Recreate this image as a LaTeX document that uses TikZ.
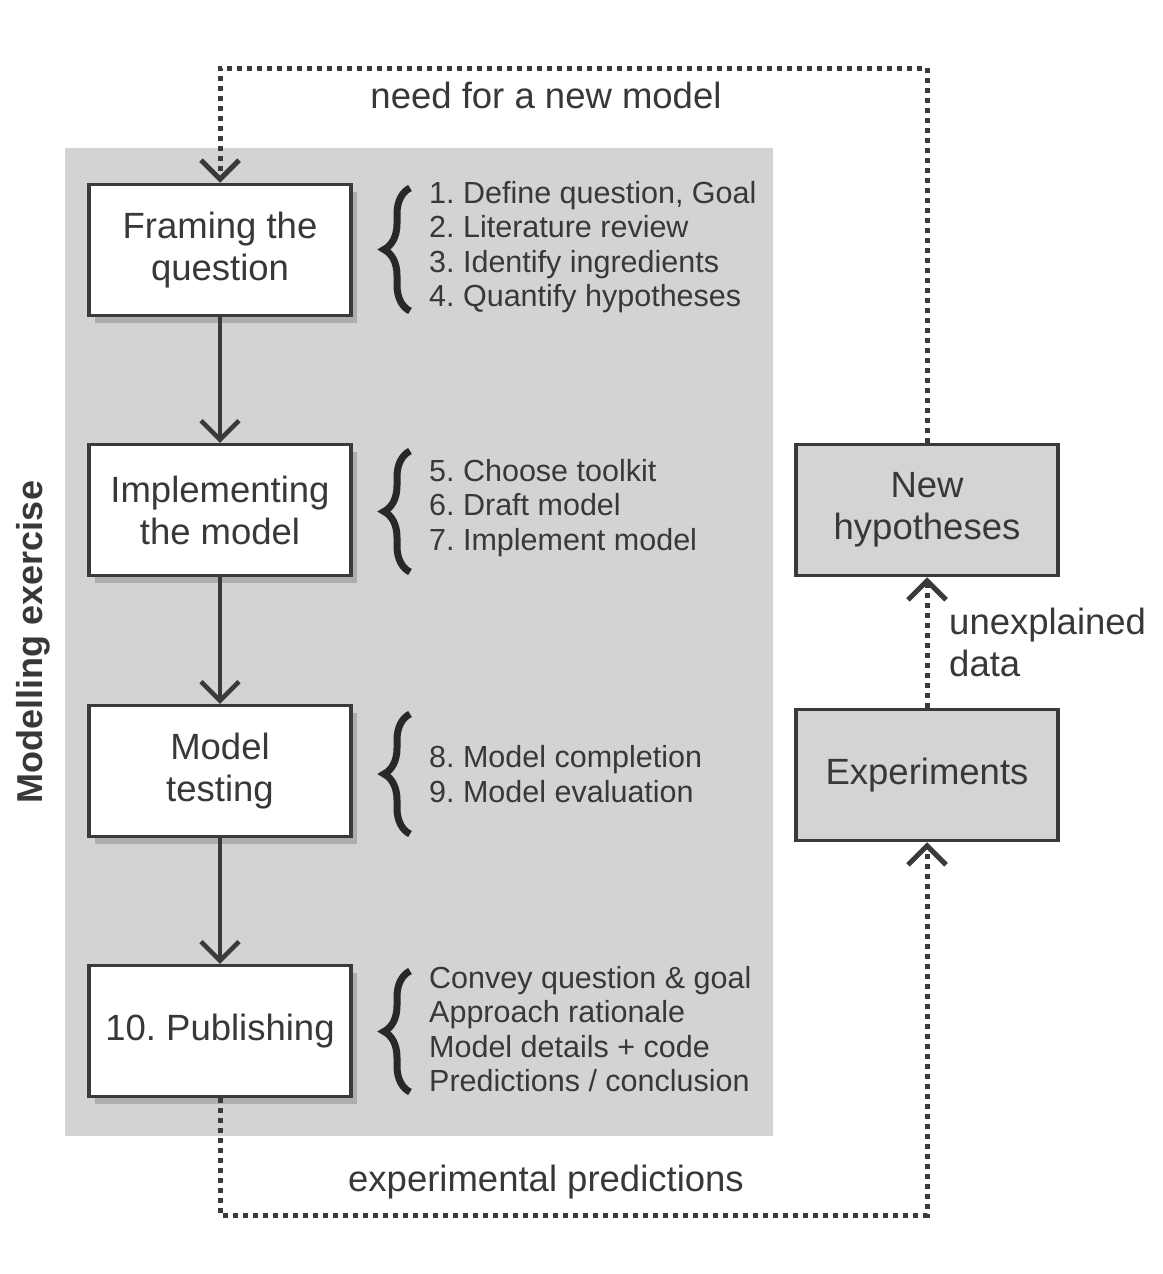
\documentclass[tikz,border=0pt]{standalone}
\usepackage{fontspec}
\setmainfont{Liberation Sans}
\frenchspacing
\usepackage{tikz}
\usetikzlibrary{arrows.meta, shadows, decorations.pathreplacing}
\definecolor{panelgray}{RGB}{211, 211, 213}
\definecolor{boxgray}{RGB}{212, 212, 212}
\definecolor{inkgray}{RGB}{56, 56, 56}
\definecolor{linegray}{RGB}{58, 58, 58}
\definecolor{bracegray}{RGB}{40, 40, 40}
\newcommand{\flowfont}{\fontsize{36.5}{42}\selectfont}
\newcommand{\notefont}{\fontsize{30.5}{34.5}\selectfont}
\newcommand{\sidefont}{\fontsize{36}{40}\selectfont\bfseries}
\tikzset{>={Straight Barb[length=19pt,width=38pt]}}
\tikzset{
  stepbox/.style={draw=linegray, line width=3.5pt, fill=white, minimum width=262pt,
    minimum height=131pt, align=center, text=inkgray, font=\flowfont,
    drop shadow={shadow xshift=6pt, shadow yshift=-7pt, opacity=0.45}},
  sidebox/.style={draw=linegray, line width=3.5pt, fill=boxgray, minimum width=262pt,
    minimum height=131pt, align=center, text=inkgray, font=\flowfont},
  notes/.style={anchor=west, align=left, inner sep=0pt, text=inkgray, font=\notefont},
  flow/.style={->, line width=4.5pt, draw=linegray},
  feedback/.style={->, line width=5pt, draw=linegray, dash pattern=on 4.5pt off 5.5pt},
  curly/.style={decorate, decoration={brace, amplitude=26pt}, line width=7pt, draw=bracegray},
  lbl/.style={text=inkgray, font=\flowfont}
}

\begin{document}
\begin{tikzpicture}[x=1pt, y=-1pt]
\useasboundingbox (0,0) rectangle (1162,1274);
\fill[panelgray] (65,148) rectangle (773,1136);

% modelling steps
\node[stepbox] (frame) at (220,250) {Framing the\\question};
\node[stepbox] (implement) at (220,510) {Implementing\\the model};
\node[stepbox] (testing) at (220,771) {Model\\testing};
\node[stepbox] (publish) at (220,1031) {10. Publishing};
\foreach \a/\b in {frame/implement, implement/testing, testing/publish}
  \draw[flow] (\a) -- (\b);

% braces and sub-steps
\foreach \top/\bot in {188/311, 451/572, 714/834, 971/1092}
  \draw[curly] (410,\bot) -- (410,\top);
\node[notes] (list1) at (429,247) {1. Define question, Goal\\2. Literature review\\3. Identify ingredients\\4. Quantify hypotheses};
\node[notes] (list2) at (429,508) {5. Choose toolkit\\6. Draft model\\7. Implement model};
\node[notes] (list3) at (429,774) {8. Model completion\\9. Model evaluation};
\node[notes] (list4) at (429,1029) {Convey question \& goal\\Approach rationale\\Model details + code\\Predictions / conclusion};

\node[text=inkgray, font=\sidefont, rotate=90] (exercise) at (33,642) {Modelling exercise};

% experimental side
\node[sidebox] (newhyp) at (927,510) {New\\hypotheses};
\node[sidebox] (exper) at (927,775) {Experiments};

\coordinate (topline) at (0,68);
\coordinate (botline) at (0,1215);
\draw[feedback] (newhyp.north) -- (newhyp.north |- topline) -| (frame.north);
\draw[feedback] (publish.south) -- (publish.south |- botline) -| (exper.south);
\draw[feedback] (exper.north) -- (newhyp.south);

\node[lbl] (needlbl) at (546,95) {need for a new model};
\node[lbl] (predlbl) at (546,1182) {experimental predictions};
\node[lbl, anchor=west, align=left, inner sep=0pt] (datalbl) at (949,642) {unexplained\\data};
\end{tikzpicture}
\end{document}
